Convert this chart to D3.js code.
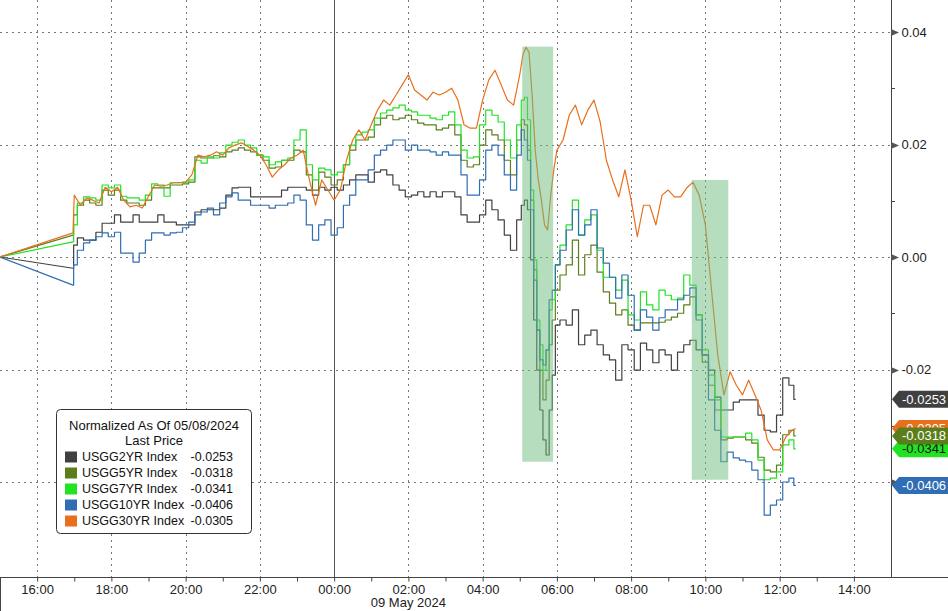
<!DOCTYPE html>
<html><head><meta charset="utf-8">
<script src="https://cdn.jsdelivr.net/npm/d3@7"></script>
<style>body{margin:0;background:#fff}svg{display:block}</style>
</head><body><svg id="c" width="948" height="611"></svg>
<script>
// Times: hours >= 15 are on 08 May 2024, others on 09 May 2024
const times = ["15:00","16:58",
"17:00","17:10","17:20","17:30","17:40","17:50",
"18:00","18:10","18:20","18:30","18:40","18:50",
"19:00","19:10","19:20","19:30","19:40","19:50",
"20:00","20:10","20:20","20:30","20:40","20:50",
"21:00","21:10","21:20","21:30","21:40","21:50",
"22:00","22:10","22:20","22:30","22:40","22:50",
"23:00","23:10","23:20","23:30","23:40","23:50",
"00:00","00:10","00:20","00:30","00:40","00:50",
"01:00","01:10","01:20","01:30","01:40","01:50",
"02:00","02:10","02:20","02:30","02:40","02:50",
"03:00","03:10","03:20","03:30","03:40","03:50",
"04:00","04:10","04:20","04:30","04:40","04:50",
"05:00","05:05","05:10","05:15","05:20","05:25","05:30","05:35","05:40","05:45","05:50","05:55",
"06:00","06:10","06:20","06:30","06:40","06:50",
"07:00","07:10","07:20","07:30","07:40","07:50",
"08:00","08:10","08:20","08:30","08:40","08:50",
"09:00","09:10","09:20","09:30","09:40","09:50",
"10:00","10:10","10:20","10:30","10:40","10:50",
"11:00","11:10","11:20","11:30","11:40","11:50",
"12:00","12:10","12:20","12:26"];

const usgg2yr = [0,-0.0020,
0.0021,0.0034,0.0030,0.0030,0.0044,0.0060,
0.0060,0.0075,0.0062,0.0062,0.0075,0.0062,
0.0062,0.0062,0.0075,0.0062,0.0062,0.0057,
0.0057,0.0057,0.0080,0.0084,0.0084,0.0084,
0.0087,0.0110,0.0123,0.0124,0.0124,0.0107,
0.0107,0.0107,0.0107,0.0107,0.0119,0.0124,
0.0124,0.0124,0.0119,0.0110,0.0124,0.0119,
0.0124,0.0119,0.0128,0.0137,0.0146,0.0146,
0.0133,0.0151,0.0155,0.0146,0.0128,0.0119,
0.0107,0.0110,0.0116,0.0107,0.0116,0.0107,
0.0116,0.0116,0.0107,0.0075,0.0062,0.0062,
0.0075,0.0101,0.0084,0.0066,0.0039,0.0012,
0.0066,0.0092,0.0101,0.0084,-0.0005,-0.0112,-0.0201,-0.0272,-0.0325,-0.0352,-0.0272,-0.0210,
-0.0121,-0.0112,-0.0121,-0.0094,-0.0156,-0.0139,
-0.0130,-0.0156,-0.0174,-0.0183,-0.0219,-0.0156,
-0.0165,-0.0201,-0.0153,-0.0165,-0.0188,-0.0165,
-0.0174,-0.0201,-0.0169,-0.0156,-0.0148,-0.0165,
-0.0174,-0.0201,-0.0249,-0.0272,-0.0272,-0.0258,
-0.0254,-0.0254,-0.0254,-0.0281,-0.0308,-0.0311,
-0.0281,-0.0215,-0.0228,-0.0253];

const usgg5yr = [0,0.0039,
0.0075,0.0092,0.0101,0.0096,0.0092,0.0119,
0.0110,0.0119,0.0101,0.0096,0.0096,0.0092,
0.0101,0.0123,0.0123,0.0123,0.0128,0.0128,
0.0130,0.0133,0.0178,0.0176,0.0176,0.0180,
0.0178,0.0187,0.0190,0.0194,0.0190,0.0187,
0.0181,0.0172,0.0158,0.0160,0.0172,0.0172,
0.0190,0.0187,0.0146,0.0119,0.0151,0.0142,
0.0128,0.0137,0.0164,0.0190,0.0208,0.0208,
0.0213,0.0235,0.0247,0.0252,0.0244,0.0247,
0.0252,0.0244,0.0238,0.0235,0.0235,0.0226,
0.0229,0.0235,0.0217,0.0172,0.0160,0.0164,
0.0199,0.0226,0.0217,0.0208,0.0172,0.0146,
0.0208,0.0244,0.0235,0.0190,0.0101,-0.0023,-0.0130,-0.0201,-0.0254,-0.0219,-0.0156,-0.0112,
-0.0059,-0.0032,-0.0014,0.0030,-0.0032,0.0004,
0.0021,-0.0027,-0.0062,-0.0082,-0.0103,-0.0094,
-0.0121,-0.0130,-0.0117,-0.0117,-0.0117,-0.0116,
-0.0112,-0.0107,-0.0100,-0.0085,-0.0071,-0.0103,
-0.0187,-0.0228,-0.0272,-0.0325,-0.0322,-0.0320,
-0.0320,-0.0325,-0.0331,-0.0356,-0.0379,-0.0382,
-0.0370,-0.0316,-0.0308,-0.0318];

const usgg7yr = [0,0.0027,
0.0057,0.0096,0.0107,0.0105,0.0101,0.0128,
0.0123,0.0128,0.0108,0.0105,0.0105,0.0101,
0.0110,0.0130,0.0128,0.0108,0.0132,0.0132,
0.0133,0.0137,0.0172,0.0167,0.0178,0.0176,
0.0185,0.0199,0.0204,0.0208,0.0199,0.0194,
0.0181,0.0178,0.0164,0.0169,0.0172,0.0176,
0.0208,0.0226,0.0164,0.0137,0.0158,0.0155,
0.0146,0.0151,0.0164,0.0199,0.0217,0.0222,
0.0226,0.0247,0.0256,0.0261,0.0265,0.0270,
0.0261,0.0258,0.0252,0.0252,0.0247,0.0244,
0.0252,0.0258,0.0235,0.0190,0.0176,0.0178,
0.0235,0.0261,0.0252,0.0240,0.0208,0.0176,
0.0235,0.0279,0.0284,0.0244,0.0119,-0.0005,-0.0112,-0.0156,-0.0201,-0.0165,-0.0094,-0.0076,
-0.0014,0.0021,0.0057,0.0101,0.0039,0.0066,
0.0075,0.0012,-0.0036,-0.0036,-0.0059,-0.0041,
-0.0103,-0.0112,-0.0062,-0.0085,-0.0094,-0.0059,
-0.0068,-0.0076,-0.0073,-0.0032,-0.0050,-0.0103,
-0.0165,-0.0210,-0.0254,-0.0320,-0.0320,-0.0320,
-0.0320,-0.0313,-0.0325,-0.0361,-0.0396,-0.0393,
-0.0382,-0.0334,-0.0325,-0.0341];

const usgg10yr = [0,-0.0050,
-0.0014,0.0012,0.0025,0.0030,0.0036,0.0043,
0.0036,0.0044,0.0007,0.0007,-0.0009,0.0007,
0.0030,0.0043,0.0043,0.0039,0.0043,0.0044,
0.0052,0.0062,0.0075,0.0080,0.0087,0.0075,
0.0096,0.0107,0.0114,0.0101,0.0101,0.0092,
0.0092,0.0092,0.0087,0.0092,0.0092,0.0096,
0.0110,0.0101,0.0057,0.0030,0.0057,0.0066,
0.0039,0.0052,0.0092,0.0110,0.0137,0.0137,
0.0155,0.0181,0.0190,0.0199,0.0208,0.0208,
0.0190,0.0199,0.0190,0.0190,0.0187,0.0181,
0.0187,0.0181,0.0181,0.0146,0.0110,0.0110,
0.0137,0.0190,0.0199,0.0181,0.0146,0.0119,
0.0181,0.0226,0.0208,0.0172,0.0084,-0.0041,-0.0130,-0.0183,-0.0192,-0.0165,-0.0076,-0.0059,
-0.0014,0.0012,0.0048,0.0084,0.0039,0.0057,
0.0084,0.0016,-0.0011,-0.0036,-0.0073,-0.0032,
-0.0068,-0.0130,-0.0094,-0.0107,-0.0130,-0.0108,
-0.0094,-0.0094,-0.0076,-0.0068,-0.0055,-0.0112,
-0.0174,-0.0254,-0.0308,-0.0364,-0.0347,-0.0357,
-0.0361,-0.0364,-0.0379,-0.0396,-0.0459,-0.0441,
-0.0432,-0.0400,-0.0393,-0.0406];

const usgg30yr = [0,0.0043,
0.0110,0.0092,0.0105,0.0101,0.0096,0.0124,
0.0116,0.0124,0.0101,0.0089,0.0092,0.0087,
0.0108,0.0128,0.0126,0.0128,0.0132,0.0132,
0.0133,0.0146,0.0181,0.0178,0.0181,0.0187,
0.0181,0.0194,0.0199,0.0203,0.0197,0.0190,
0.0181,0.0164,0.0142,0.0155,0.0164,0.0176,
0.0181,0.0190,0.0137,0.0092,0.0137,0.0119,
0.0101,0.0119,0.0172,0.0208,0.0226,0.0208,
0.0235,0.0261,0.0279,0.0270,0.0288,0.0306,
0.0324,0.0297,0.0288,0.0279,0.0293,0.0288,
0.0293,0.0300,0.0279,0.0235,0.0229,0.0229,
0.0279,0.0315,0.0332,0.0306,0.0279,0.0270,
0.0324,0.0359,0.0373,0.0364,0.0288,0.0190,0.0137,0.0101,0.0057,0.0048,0.0110,0.0155,
0.0190,0.0208,0.0252,0.0270,0.0235,0.0261,
0.0279,0.0240,0.0172,0.0137,0.0107,0.0155,
0.0101,0.0036,0.0092,0.0092,0.0057,0.0110,
0.0119,0.0107,0.0107,0.0123,0.0133,0.0110,
0.0057,-0.0059,-0.0174,-0.0245,-0.0204,-0.0228,
-0.0245,-0.0219,-0.0245,-0.0272,-0.0325,-0.0343,
-0.0343,-0.0320,-0.0308,-0.0305];

const seriesNames = ["USGG2YR Index","USGG5YR Index","USGG7YR Index","USGG10YR Index","USGG30YR Index"];
const lastPrices = [-0.0253,-0.0318,-0.0341,-0.0406,-0.0305];
const seriesColors = ["#404040","#5b7e1a","#22e322","#2f6db4","#e8701c"];
const tagTextColors = ["#fff","#fff","#111","#fff","#fff"];
const yTicks = [-0.04,-0.02,0,0.02,0.04];
const yTickLabels = [-0.02,0,0.02,0.04]; // -0.04 label sits under the 10YR price tag
const yMinorTicks = [-0.03,-0.01,0.01,0.03];
const xLabelTimes = ["16:00","18:00","20:00","22:00","00:00","02:00","04:00","06:00","08:00","10:00","12:00","14:00"];
const shadeStart = ["05:04","09:38"];
const shadeEnd = ["05:54","10:37"];
const shadeTop = [0.0374,0.0137];
const shadeBottom = [-0.0364,-0.0396];
const legendTitle = "Normalized As Of 05/08/2024";
const legendSub = "Last Price";
const dateLabel = "09 May 2024";

function parseT(s){
  const [h,m] = s.split(":").map(Number);
  return new Date(2024,4,h>=15?8:9,h,m);
}
const fmt = v => d3.format(".4f")(v).replace("\u2212","-");
const fmt2 = v => d3.format(".2f")(v).replace("\u2212","-");

const W=948,H=611, plotR=891, plotB=577;
const svg = d3.select("#c");
const x = d3.scaleTime().domain([new Date(2024,4,8,15,0), new Date(2024,4,9,15,0)]).range([0,plotR]);
const y = d3.scaleLinear().domain([-0.04,0.04]).range([482,32]);

svg.append("defs").append("clipPath").attr("id","clip")
  .append("rect").attr("x",0).attr("y",0).attr("width",plotR).attr("height",plotB);

// gridlines
const grid = svg.append("g");
grid.selectAll("line.h").data(yTicks).join("line")
  .attr("x1",0).attr("x2",plotR).attr("y1",d=>Math.round(y(d))+0.5).attr("y2",d=>Math.round(y(d))+0.5)
  .attr("stroke","#777").attr("stroke-dasharray","2,4");
grid.selectAll("line.v").data(xLabelTimes).join("line")
  .attr("x1",d=>Math.round(x(parseT(d)))+0.5).attr("x2",d=>Math.round(x(parseT(d)))+0.5)
  .attr("y1",0).attr("y2",plotB)
  .attr("stroke",d=>d==="00:00"?"#555":"#777")
  .attr("stroke-dasharray",d=>d==="00:00"?null:"2,4");

// series: linear gap segment from 15:00 to the session open, then stepped ticks
const allSeries = [usgg2yr,usgg5yr,usgg7yr,usgg10yr,usgg30yr];
const seriesCurves = [d3.curveStep,d3.curveStep,d3.curveStep,d3.curveStep,d3.curveLinear];
const pts = allSeries.map(s => s.map((v,j)=>[parseT(times[j]),v]));
const lines = svg.append("g").attr("clip-path","url(#clip)");
[0,1,2,3,4].forEach(i=>{
  const gapLine = d3.line().x(d=>x(d[0])).y(d=>y(d[1])).curve(d3.curveLinear);
  const mainLine = d3.line().x(d=>x(d[0])).y(d=>y(d[1])).curve(seriesCurves[i]);
  lines.append("path").datum(pts[i].slice(0,2))
    .attr("d",gapLine).attr("fill","none").attr("stroke",seriesColors[i]).attr("stroke-width",1.2);
  lines.append("path").datum(pts[i].slice(1))
    .attr("d",mainLine).attr("fill","none").attr("stroke",seriesColors[i])
    .attr("stroke-width",1.2).attr("stroke-linejoin","round");
});

// shaded windows (drawn over lines)
svg.append("g").selectAll("rect").data(shadeStart).join("rect")
  .attr("x",(d,i)=>x(parseT(shadeStart[i])))
  .attr("width",(d,i)=>x(parseT(shadeEnd[i]))-x(parseT(shadeStart[i])))
  .attr("y",(d,i)=>y(shadeTop[i]))
  .attr("height",(d,i)=>y(shadeBottom[i])-y(shadeTop[i]))
  .attr("fill","#6dbb7e").attr("fill-opacity",0.5);

// axes frame
svg.append("line").attr("x1",plotR+0.5).attr("x2",plotR+0.5).attr("y1",0).attr("y2",plotB).attr("stroke","#444");
svg.append("line").attr("x1",0).attr("x2",W).attr("y1",plotB+0.5).attr("y2",plotB+0.5).attr("stroke","#444");
svg.append("line").attr("x1",0.5).attr("x2",0.5).attr("y1",plotB).attr("y2",H).attr("stroke","#444");

// right axis
const ya = svg.append("g").attr("transform",`translate(${plotR+0.5},0)`)
  .call(d3.axisRight(y).tickValues(yTickLabels).tickSize(0).tickPadding(10).tickFormat(fmt2));
ya.select(".domain").remove();
ya.selectAll("text").attr("font-family","'Liberation Sans',Arial,sans-serif").attr("font-size",13).attr("fill","#222");
svg.append("g").selectAll("path").data(yTicks).join("path")
  .attr("d",d=>{const c=Math.round(y(d))+0.5;return `M${plotR},${c-3.5} L${plotR+8},${c} L${plotR},${c+3.5} Z`;})
  .attr("fill","#555");
svg.append("g").selectAll("line").data(yMinorTicks).join("line")
  .attr("x1",plotR).attr("x2",plotR+4).attr("y1",d=>Math.round(y(d))+0.5).attr("y2",d=>Math.round(y(d))+0.5)
  .attr("stroke","#444");

// bottom axis
const hourly = d3.timeHour.range(new Date(2024,4,8,16,0), new Date(2024,4,9,15,0));
const xa = svg.append("g").attr("transform",`translate(0,${plotB+0.5})`)
  .call(d3.axisBottom(x).tickValues(hourly).tickSize(4).tickPadding(3)
    .tickFormat(d=>{const s=d3.timeFormat("%H:%M")(d);return xLabelTimes.includes(s)?s:"";}));
xa.select(".domain").remove();
xa.selectAll("line").attr("stroke","#444");
xa.selectAll("text").attr("font-family","'Liberation Sans Narrow','Arial Narrow','Liberation Sans',sans-serif").attr("font-size",13).attr("fill","#222");
svg.append("text").attr("x",x(parseT("02:00"))).attr("y",607).attr("text-anchor","middle")
  .attr("font-family","'Liberation Sans Narrow','Arial Narrow','Liberation Sans',sans-serif").attr("font-size",13).attr("fill","#222")
  .text(dateLabel);

// last price tags
const tagOrder = [0,4,2,1,3];
const tags = svg.append("g");
tagOrder.forEach(i=>{
  const c = y(lastPrices[i]);
  tags.append("path").attr("d",`M${plotR+1},${c} L${plotR+8},${c-8.5} L${W},${c-8.5} L${W},${c+8.5} L${plotR+8},${c+8.5} Z`)
    .attr("fill",seriesColors[i]);
  tags.append("text").attr("x",plotR+11).attr("y",c).attr("dy","0.35em")
    .attr("font-family","'Liberation Sans',Arial,sans-serif").attr("font-size",13)
    .attr("fill",tagTextColors[i]).text(fmt(lastPrices[i]));
});

// legend
const lg = svg.append("g").attr("transform","translate(56,409)");
lg.append("rect").attr("x",0.5).attr("y",0.5).attr("width",195).attr("height",124).attr("rx",4)
  .attr("fill","#fff").attr("stroke","#333");
const lf = "'Liberation Sans',Arial,sans-serif";
lg.append("text").attr("x",98).attr("y",21).attr("text-anchor","middle").attr("font-family",lf).attr("font-size",13).attr("fill","#111").text(legendTitle);
lg.append("text").attr("x",98).attr("y",36).attr("text-anchor","middle").attr("font-family",lf).attr("font-size",13).attr("fill","#111").text(legendSub);
seriesNames.forEach((n,i)=>{
  const yy = 52 + i*16;
  lg.append("rect").attr("x",9).attr("y",yy-9.5).attr("width",12).attr("height",11).attr("fill",seriesColors[i]);
  lg.append("text").attr("x",26).attr("y",yy).attr("font-family",lf).attr("font-size",12.5).attr("fill","#111").text(n);
  lg.append("text").attr("x",177).attr("y",yy).attr("text-anchor","end").attr("font-family",lf).attr("font-size",12.5).attr("fill","#111").text(fmt(lastPrices[i]));
});
</script></body></html>
